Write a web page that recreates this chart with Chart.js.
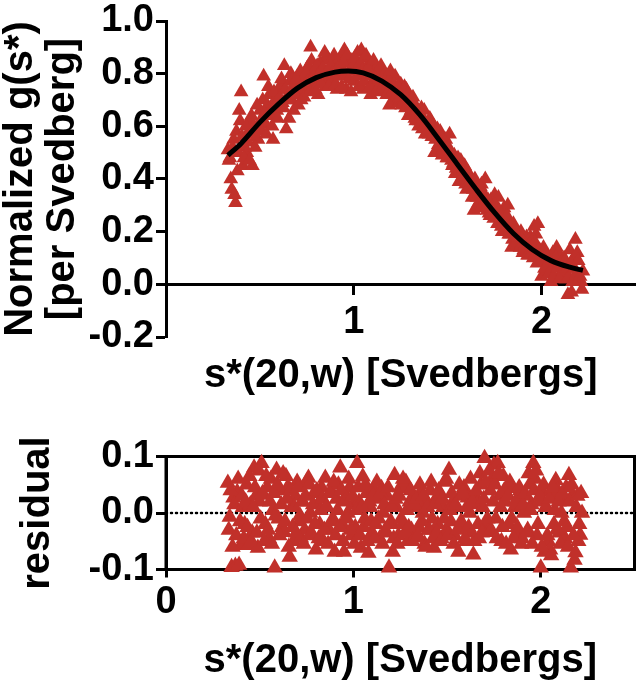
<!DOCTYPE html>
<html>
<head>
<meta charset="utf-8">
<script src="https://cdn.jsdelivr.net/npm/chart.js@4.4.0/dist/chart.umd.min.js"></script>
<style>
  html, body { margin: 0; padding: 0; background: #fff; }
  #wrap { position: relative; width: 644px; height: 682px; overflow: hidden; }
  canvas { position: absolute; left: 0; }
  #topChart { top: 0; }
  #residChart { top: 410px; }
</style>
</head>
<body>
<div id="wrap">
  <canvas id="topChart" width="644" height="450"></canvas>
  <canvas id="residChart" width="644" height="272"></canvas>
</div>
<script>
// sedimentation coefficient grid, s*(20,w) in Svedbergs (two interleaved scans)
const sValues = [
  0.33, 0.34, 0.35, 0.36, 0.37, 0.38, 0.39, 0.40, 0.41, 0.42,
  0.43, 0.44, 0.45, 0.46, 0.47, 0.48, 0.49, 0.50, 0.51, 0.52,
  0.53, 0.54, 0.55, 0.56, 0.57, 0.58, 0.59, 0.60, 0.61, 0.62,
  0.63, 0.64, 0.65, 0.66, 0.67, 0.68, 0.69, 0.70, 0.71, 0.72,
  0.73, 0.74, 0.75, 0.76, 0.77, 0.78, 0.79, 0.80, 0.81, 0.82,
  0.83, 0.84, 0.85, 0.86, 0.87, 0.88, 0.89, 0.90, 0.91, 0.92,
  0.93, 0.94, 0.95, 0.96, 0.97, 0.98, 0.99, 1.00, 1.01, 1.02,
  1.03, 1.04, 1.05, 1.06, 1.07, 1.08, 1.09, 1.10, 1.11, 1.12,
  1.13, 1.14, 1.15, 1.16, 1.17, 1.18, 1.19, 1.20, 1.21, 1.22,
  1.23, 1.24, 1.25, 1.26, 1.27, 1.28, 1.29, 1.30, 1.31, 1.32,
  1.33, 1.34, 1.35, 1.36, 1.37, 1.38, 1.39, 1.40, 1.41, 1.42,
  1.43, 1.44, 1.45, 1.46, 1.47, 1.48, 1.49, 1.50, 1.51, 1.52,
  1.53, 1.54, 1.55, 1.56, 1.57, 1.58, 1.59, 1.60, 1.61, 1.62,
  1.63, 1.64, 1.65, 1.66, 1.67, 1.68, 1.69, 1.70, 1.71, 1.72,
  1.73, 1.74, 1.75, 1.76, 1.77, 1.78, 1.79, 1.80, 1.81, 1.82,
  1.83, 1.84, 1.85, 1.86, 1.87, 1.88, 1.89, 1.90, 1.91, 1.92,
  1.93, 1.94, 1.95, 1.96, 1.97, 1.98, 1.99, 2.00, 2.01, 2.02,
  2.03, 2.04, 2.05, 2.06, 2.07, 2.08, 2.09, 2.10, 2.11, 2.12,
  2.13, 2.14, 2.15, 2.16, 2.17, 2.18, 2.19, 2.20, 2.21, 2.22
];
const sValuesB = [
  0.335, 0.345, 0.355, 0.365, 0.375, 0.385, 0.395, 0.405, 0.415, 0.425,
  0.435, 0.445, 0.455, 0.465, 0.475, 0.485, 0.495, 0.505, 0.515, 0.525,
  0.535, 0.545, 0.555, 0.565, 0.575, 0.585, 0.595, 0.605, 0.615, 0.625,
  0.635, 0.645, 0.655, 0.665, 0.675, 0.685, 0.695, 0.705, 0.715, 0.725,
  0.735, 0.745, 0.755, 0.765, 0.775, 0.785, 0.795, 0.805, 0.815, 0.825,
  0.835, 0.845, 0.855, 0.865, 0.875, 0.885, 0.895, 0.905, 0.915, 0.925,
  0.935, 0.945, 0.955, 0.965, 0.975, 0.985, 0.995, 1.005, 1.015, 1.025,
  1.035, 1.045, 1.055, 1.065, 1.075, 1.085, 1.095, 1.105, 1.115, 1.125,
  1.135, 1.145, 1.155, 1.165, 1.175, 1.185, 1.195, 1.205, 1.215, 1.225,
  1.235, 1.245, 1.255, 1.265, 1.275, 1.285, 1.295, 1.305, 1.315, 1.325,
  1.335, 1.345, 1.355, 1.365, 1.375, 1.385, 1.395, 1.405, 1.415, 1.425,
  1.435, 1.445, 1.455, 1.465, 1.475, 1.485, 1.495, 1.505, 1.515, 1.525,
  1.535, 1.545, 1.555, 1.565, 1.575, 1.585, 1.595, 1.605, 1.615, 1.625,
  1.635, 1.645, 1.655, 1.665, 1.675, 1.685, 1.695, 1.705, 1.715, 1.725,
  1.735, 1.745, 1.755, 1.765, 1.775, 1.785, 1.795, 1.805, 1.815, 1.825,
  1.835, 1.845, 1.855, 1.865, 1.875, 1.885, 1.895, 1.905, 1.915, 1.925,
  1.935, 1.945, 1.955, 1.965, 1.975, 1.985, 1.995, 2.005, 2.015, 2.025,
  2.035, 2.045, 2.055, 2.065, 2.075, 2.085, 2.095, 2.105, 2.115, 2.125,
  2.135, 2.145, 2.155, 2.165, 2.175, 2.185, 2.195, 2.205, 2.215
];

// normalized g(s*) data points (red triangles, top panel)
const gValues = [
  0.51, 0.48, 0.36, 0.55, 0.31, 0.43, 0.66, 0.73, 0.45, 0.52,
  0.50, 0.58, 0.62, 0.45, 0.60, 0.56, 0.55, 0.66, 0.63, 0.79,
  0.61, 0.68, 0.72, 0.64, 0.55, 0.70, 0.66, 0.74, 0.755, 0.69,
  0.83, 0.59, 0.72, 0.77, 0.70, 0.66, 0.76, 0.79, 0.73, 0.70,
  0.78, 0.74, 0.82, 0.83, 0.90, 0.75, 0.81, 0.77, 0.72, 0.84,
  0.78, 0.85, 0.75, 0.86, 0.81, 0.77, 0.84, 0.80, 0.74, 0.83,
  0.86, 0.79, 0.89, 0.74, 0.84, 0.81, 0.85, 0.77, 0.82, 0.88,
  0.80, 0.89, 0.74, 0.86, 0.79, 0.84, 0.72, 0.80, 0.76, 0.82,
  0.80, 0.73, 0.81, 0.77, 0.74, 0.79, 0.68, 0.75, 0.69, 0.79,
  0.73, 0.69, 0.76, 0.70, 0.75, 0.74, 0.64, 0.70, 0.65, 0.69,
  0.62, 0.65, 0.62, 0.67, 0.63, 0.57, 0.61, 0.57, 0.62, 0.58,
  0.50, 0.57, 0.53, 0.58, 0.49, 0.52, 0.55, 0.48, 0.57, 0.47,
  0.46, 0.42, 0.46, 0.39, 0.47, 0.41, 0.45, 0.36, 0.42, 0.39,
  0.33, 0.28, 0.38, 0.36, 0.29, 0.38, 0.32, 0.40, 0.28, 0.27,
  0.32, 0.32, 0.34, 0.26, 0.33, 0.27, 0.20, 0.29, 0.24, 0.30,
  0.19, 0.14, 0.23, 0.20, 0.15, 0.19, 0.20, 0.12, 0.16, 0.18,
  0.11, 0.18, 0.14, 0.22, 0.19, 0.23, 0.13, 0.03, 0.14, 0.04,
  0.10, 0.04, 0.01, 0.12, 0.07, 0.14, 0.12, 0.04, 0.07, 0.10,
  0.02, -0.04, 0.13, -0.03, 0.10, 0.17, 0.12, 0.02, 0.01, 0.05
];
const gValuesB = [
  0.47, 0.40, 0.52, 0.34, 0.58, 0.50, 0.62, 0.56, 0.48, 0.60,
  0.54, 0.47, 0.64, 0.57, 0.52, 0.68, 0.60, 0.58, 0.70, 0.65,
  0.57, 0.75, 0.66, 0.60, 0.73, 0.68, 0.63, 0.71, 0.78, 0.67,
  0.74, 0.70, 0.63, 0.80, 0.75, 0.72, 0.78, 0.68, 0.81, 0.76,
  0.71, 0.80, 0.77, 0.73, 0.85, 0.79, 0.74, 0.83, 0.80, 0.76,
  0.82, 0.88, 0.79, 0.75, 0.83, 0.80, 0.87, 0.76, 0.82, 0.79,
  0.75, 0.84, 0.80, 0.87, 0.78, 0.73, 0.83, 0.86, 0.79, 0.75,
  0.84, 0.81, 0.77, 0.87, 0.82, 0.75, 0.79, 0.85, 0.78, 0.74,
  0.78, 0.83, 0.75, 0.80, 0.72, 0.77, 0.81, 0.73, 0.76, 0.71,
  0.75, 0.71, 0.68, 0.74, 0.67, 0.72, 0.69, 0.66, 0.71, 0.63,
  0.66, 0.60, 0.64, 0.59, 0.66, 0.61, 0.58, 0.63, 0.56, 0.60,
  0.55, 0.59, 0.52, 0.56, 0.51, 0.54, 0.48, 0.52, 0.50, 0.45,
  0.49, 0.44, 0.48, 0.43, 0.40, 0.44, 0.38, 0.43, 0.37, 0.40,
  0.36, 0.40, 0.33, 0.31, 0.37, 0.30, 0.34, 0.29, 0.32, 0.26,
  0.29, 0.25, 0.30, 0.23, 0.28, 0.22, 0.25, 0.21, 0.26, 0.19,
  0.22, 0.17, 0.21, 0.16, 0.18, 0.14, 0.17, 0.13, 0.15, 0.11,
  0.15, 0.12, 0.10, 0.16, 0.08, 0.13, 0.09, 0.12, 0.06, 0.11,
  0.08, 0.05, 0.09, 0.03, 0.10, 0.06, 0.02, 0.08, 0.05, 0.09,
  0.06, 0.03, 0.08, 0.01, 0.06, 0.04, 0.09, 0.03, -0.02
];

// residuals of the fit (bottom panel)
const residValues = [
  0.053, -0.007, -0.096, 0.027, -0.094, 0.037, -0.092, -0.057, 0.01, -0.02,
  0.05, -0.057, 0.015, -0.035, 0.08, 0.03, -0.062, 0.02, 0.088, 0.032,
  -0.02, 0.045, -0.045, 0.06, 0.005, -0.097, 0.076, -0.01, 0.04, -0.025,
  -0.034, 0.065, 0.046, -0.078, 0.01, -0.05, 0.03, 0.055, -0.015, -0.044,
  0.02, -0.03, 0.055, 0.062, 0.0, -0.04, 0.035, -0.065, 0.015, -0.02,
  0.045, -0.05, 0.062, 0.01, -0.03, 0.04, -0.01, -0.069, 0.025, 0.05,
  0.08, -0.02, -0.069, 0.03, 0.0, 0.045, -0.04, 0.015, -0.025, 0.088,
  0.02, -0.062, 0.064, -0.01, 0.035, -0.071, 0.01, -0.035, 0.04, -0.02,
  0.025, -0.045, 0.044, 0.0, -0.03, 0.03, -0.097, -0.015, -0.069, 0.067,
  0.01, -0.04, 0.045, -0.02, 0.044, 0.055, -0.05, 0.02, -0.03, 0.03,
  -0.044, 0.01, -0.025, 0.037, 0.0, -0.055, 0.02, -0.03, 0.04, -0.01,
  -0.062, 0.025, -0.02, 0.035, -0.045, 0.01, 0.055, -0.03, 0.076, -0.015,
  0.02, -0.04, 0.01, -0.069, 0.03, -0.02, 0.045, -0.05, 0.027, 0.0,
  -0.035, -0.074, 0.03, 0.015, -0.045, 0.05, 0.01, 0.097, -0.02, -0.034,
  0.04, 0.06, 0.085, -0.01, 0.088, 0.03, -0.05, 0.065, 0.02, 0.045,
  -0.02, -0.065, 0.044, 0.01, -0.035, 0.025, 0.04, -0.045, 0.0, 0.03,
  -0.03, 0.05, 0.015, 0.088, 0.06, -0.04, 0.02, -0.097, 0.037, -0.069,
  0.01, -0.05, -0.065, 0.03, -0.02, 0.058, 0.04, -0.035, 0.0, 0.025,
  -0.045, -0.025, 0.067, -0.097, 0.032, -0.083, 0.01, -0.05, -0.039, 0.0
];
const residValuesB = [
  -0.03, 0.04, -0.06, 0.015, -0.04, 0.06, -0.015, 0.03, -0.045, 0.02,
  -0.025, 0.065, -0.05, 0.01, 0.045, -0.035, 0.075, -0.01, 0.035, -0.05,
  0.065, -0.03, 0.02, -0.055, 0.035, -0.005, 0.05, -0.04, 0.015, 0.07,
  -0.015, 0.025, -0.06, 0.04, -0.025, 0.01, -0.035, 0.045, -0.005, 0.02,
  -0.055, 0.03, -0.01, 0.05, -0.035, 0.015, -0.02, 0.04, -0.045, 0.005,
  0.025, -0.03, 0.01, -0.055, 0.035, -0.015, 0.055, -0.04, 0.005, -0.025,
  0.04, -0.05, 0.02, -0.01, 0.06, -0.03, 0.03, -0.055, 0.005, 0.045,
  -0.04, 0.01, -0.025, 0.05, -0.05, 0.02, -0.015, 0.03, -0.045, 0.055,
  -0.01, 0.035, -0.055, 0.015, -0.035, 0.045, -0.02, 0.01, -0.045, 0.025,
  -0.055, 0.03, -0.01, 0.06, -0.035, 0.005, -0.025, 0.04, -0.05, 0.015,
  0.025, -0.04, 0.05, -0.015, 0.03, -0.06, 0.01, -0.03, 0.055, -0.045,
  0.015, -0.035, 0.04, -0.05, 0.025, -0.01, 0.06, -0.04, 0.005, 0.035,
  -0.055, 0.015, -0.03, 0.05, -0.015, 0.035, -0.045, 0.01, -0.025, 0.06,
  0.02, -0.05, 0.04, -0.02, 0.07, -0.035, 0.025, 0.055, -0.01, 0.075,
  -0.03, 0.02, 0.05, -0.045, 0.07, 0.01, -0.025, 0.04, -0.055, 0.03,
  0.055, -0.01, -0.045, 0.02, -0.025, 0.045, -0.055, 0.015, 0.035, -0.035,
  0.07, 0.005, -0.055, 0.04, 0.075, -0.02, 0.03, -0.06, 0.05, 0.01,
  -0.04, 0.025, -0.075, 0.045, 0.005, -0.03, 0.02, -0.055, 0.035, -0.015,
  0.045, -0.06, 0.02, 0.05, -0.04, -0.07, 0.03, -0.02, 0.035
];

// fitted curve (black line)
const fitS = [0.33, 0.40, 0.50, 0.60, 0.70, 0.80, 0.90, 0.97, 1.05, 1.15, 1.25,
              1.35, 1.45, 1.55, 1.65, 1.75, 1.85, 1.95, 2.05, 2.15, 2.22];
const fitG = [0.49, 0.535, 0.615, 0.685, 0.745, 0.785, 0.806, 0.81, 0.803, 0.772, 0.72,
              0.645, 0.553, 0.457, 0.362, 0.272, 0.193, 0.132, 0.09, 0.065, 0.053];

// axes
const sRange = [0, 2.5];
const topXTicks = [1, 2];
const topYTicks = [-0.2, 0.0, 0.2, 0.4, 0.6, 0.8, 1.0];
const residXTicks = [0, 1, 2];
const residYTicks = [-0.1, 0.0, 0.1];

const RED = '#C1302A';
const FONT = "'Liberation Sans', Arial, Helvetica, sans-serif";
const tickFont = { family: FONT, size: 38, weight: 'bold', lineHeight: 1 };
const titleFont = { family: FONT, size: 40, weight: 'bold', lineHeight: 1.05 };

function pairs(xs, ys) {
  return xs.map((x, i) => ({ x: x, y: ys[i] }));
}

function axisStyle(tickLen) {
  return {
    border: { display: true, color: '#000', width: 3 },
    grid: { drawOnChartArea: false, drawTicks: true, tickLength: tickLen, tickWidth: 3, tickColor: '#000' }
  };
}

function triangles(label, points, radius) {
  return {
    label: label,
    data: points,
    pointStyle: 'triangle',
    pointRadius: radius,
    backgroundColor: RED,
    borderColor: RED,
    borderWidth: 0,
    clip: false,
    order: 1
  };
}

// box around the residual plot
const frameBox = {
  id: 'frameBox',
  beforeDatasetsDraw(chart) {
    const { ctx, chartArea: a } = chart;
    ctx.save();
    ctx.strokeStyle = '#000';
    ctx.lineWidth = 3;
    ctx.strokeRect(a.left, a.top, a.right - a.left, a.bottom - a.top);
    ctx.restore();
  }
};

new Chart(document.getElementById('topChart'), {
  type: 'scatter',
  data: {
    datasets: [
      {
        label: 'fit',
        data: pairs(fitS, fitG),
        showLine: true,
        borderColor: '#000',
        borderWidth: 5,
        pointRadius: 0,
        cubicInterpolationMode: 'monotone',
        order: 0
      },
      triangles('g(s*)', pairs(sValues, gValues).concat(pairs(sValuesB, gValuesB)), 8.5)
    ]
  },
  options: {
    responsive: false,
    animation: false,
    // the x axis sits at y = 0, so its labels need room reserved below the plot
    layout: { padding: { top: 19, right: 4, bottom: 113, left: 0 } },
    plugins: { legend: { display: false }, tooltip: { enabled: false } },
    scales: {
      x: Object.assign({
        type: 'linear',
        min: sRange[0],
        max: sRange[1],
        position: { y: 0 },
        afterFit: (s) => { s.height = 113; },
        afterBuildTicks: (s) => { s.ticks = topXTicks.map(v => ({ value: v })); },
        ticks: { padding: 10, color: '#000', font: tickFont, maxRotation: 0 },
        title: { display: true, text: 's*(20,w) [Svedbergs]', color: '#000', font: titleFont, padding: 0 }
      }, axisStyle(9)),
      y: Object.assign({
        type: 'linear',
        min: -0.2,
        max: 1.0,
        afterFit: (s) => { s.width = 166; },
        afterBuildTicks: (s) => { s.ticks = topYTicks.map(v => ({ value: v })); },
        ticks: { padding: 2, color: '#000', font: tickFont, callback: (v) => v.toFixed(1) },
        title: { display: true, text: ['Normalized g(s*)', '[per Svedberg]'], color: '#000', font: titleFont, padding: 0 }
      }, axisStyle(10))
    }
  }
});

new Chart(document.getElementById('residChart'), {
  type: 'scatter',
  data: {
    datasets: [
      {
        label: 'zero',
        data: pairs(sRange, [0, 0]),
        showLine: true,
        borderColor: '#000',
        borderWidth: 2.5,
        borderDash: [1, 4],
        borderCapStyle: 'round',
        pointRadius: 0,
        order: 2
      },
      triangles('residual', pairs(sValues, residValues).concat(pairs(sValuesB, residValuesB)), 9.5)
    ]
  },
  options: {
    responsive: false,
    animation: false,
    layout: { padding: { top: 46.5, right: 4, bottom: 0, left: 0 } },
    plugins: { legend: { display: false }, tooltip: { enabled: false } },
    scales: {
      x: Object.assign({
        type: 'linear',
        min: sRange[0],
        max: sRange[1],
        position: 'bottom',
        afterFit: (s) => { s.height = 112.5; },
        afterBuildTicks: (s) => { s.ticks = residXTicks.map(v => ({ value: v })); },
        ticks: { padding: 6, color: '#000', font: tickFont, maxRotation: 0 },
        title: { display: true, text: 's*(20,w) [Svedbergs]', color: '#000', font: titleFont, padding: 0 }
      }, axisStyle(8)),
      y: Object.assign({
        type: 'linear',
        min: -0.1,
        max: 0.1,
        afterFit: (s) => { s.width = 166; },
        afterBuildTicks: (s) => { s.ticks = residYTicks.map(v => ({ value: v })); },
        ticks: { padding: 2, color: '#000', font: tickFont, callback: (v) => v.toFixed(1) },
        title: { display: true, text: 'residual', color: '#000', font: titleFont, padding: { top: 17, bottom: 0 } }
      }, axisStyle(10))
    }
  },
  plugins: [frameBox]
});
</script>
</body>
</html>
